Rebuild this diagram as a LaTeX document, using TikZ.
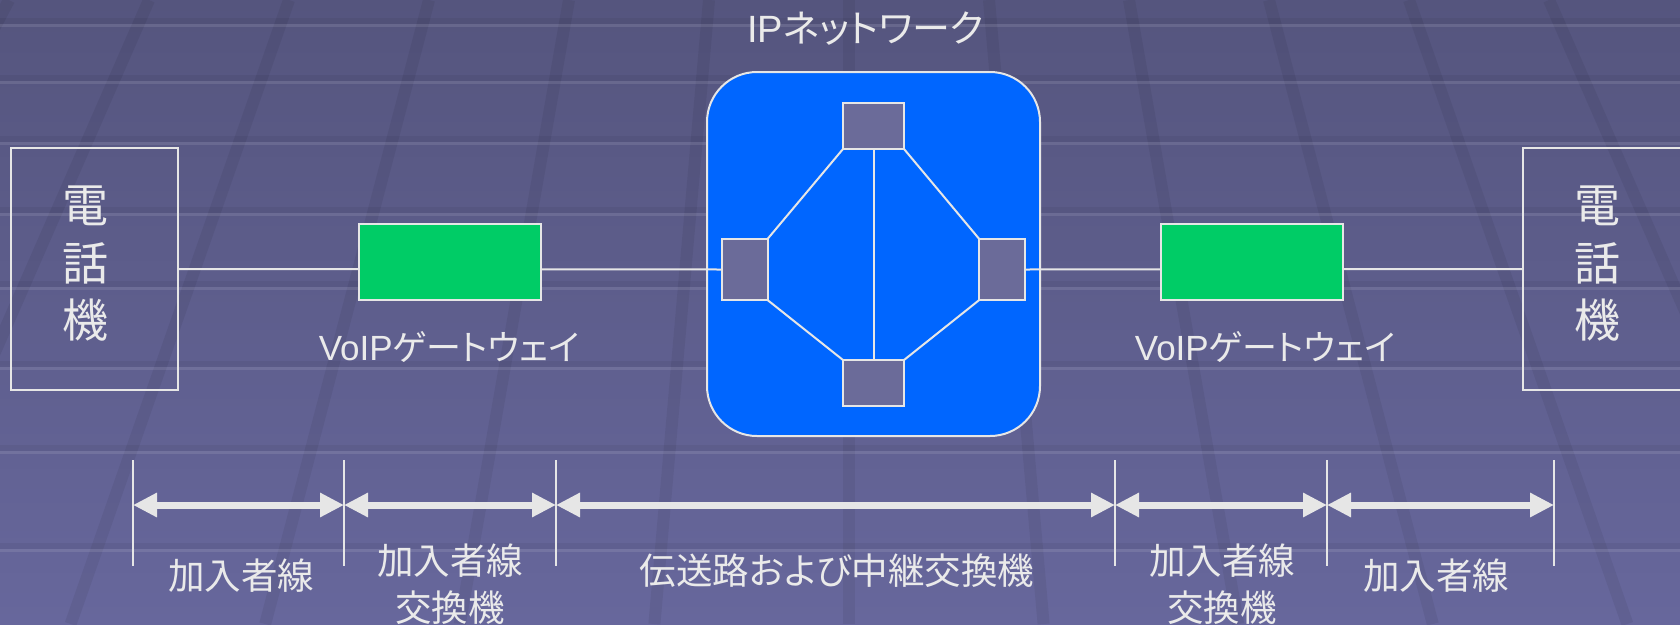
\documentclass[tikz,border=0pt]{standalone}
\usepackage{fontspec}
\setmainfont{Noto Sans CJK JP}[RawFeature={+palt}]
\newfontfamily\latf{Liberation Sans}
\usetikzlibrary{arrows.meta}
\pgfdeclarelayer{bg}
\pgfdeclarelayer{lines}
\pgfsetlayers{bg,lines,main}
\definecolor{bgtop}{HTML}{55557E}
\definecolor{bgbot}{HTML}{67679C}
\definecolor{txt}{HTML}{EAEAEA}
\definecolor{gwgreen}{HTML}{00CC66}
\definecolor{netblue}{HTML}{0066FF}
\definecolor{router}{HTML}{6B6B99}
\definecolor{linec}{HTML}{E6E6E6}
\tikzset{
  boxline/.style={draw=linec, line width=2pt, inner sep=0pt, outer sep=0pt},
  phonebox/.style={boxline, minimum width=167pt, minimum height=242pt},
  gwbox/.style={boxline, fill=gwgreen, minimum width=182pt, minimum height=76pt},
  rtbox/.style={boxline, fill=router},
  conn/.style={draw=linec, line width=2pt},
  tick/.style={draw=linec, line width=1.8pt},
  dimarrow/.style={draw=linec, line width=7pt, {Triangle[length=24pt,width=23pt]}-{Triangle[length=24pt,width=23pt]}},
  lbl/.style={text=txt, inner sep=0pt, font=\fontsize{36.5}{47}\selectfont, align=center},
  phonetxt/.style={text=txt, inner sep=0pt, font=\fontsize{46}{57.5}\selectfont, align=center},
}
\begin{document}
\begin{tikzpicture}[x=1pt,y=-1pt]
\clip (0,0) rectangle (1680,624);
\begin{pgfonlayer}{bg}
  \shade[top color=bgtop, bottom color=bgbot] (0,0) rectangle (1680,624);
  \foreach \k in {-7,...,7} {
    \draw[line width=12pt, black, opacity=0.06] (849+140*\k,0) -- (849+194.6*\k,624);
  }
  \foreach \yy in {25,82,143,214,288,368,452,550} {
    \draw[line width=6pt, black, opacity=0.05] (0,\yy-4.5) -- (1680,\yy-4.5);
    \draw[line width=3pt, white, opacity=0.10] (0,\yy) -- (1680,\yy);
  }
  \node[boxline, fill=netblue, rounded corners=50pt, minimum width=333pt, minimum height=364pt] (net) at (873.5,254) {};
\end{pgfonlayer}

% phones
\node[phonebox] (phoneL) at (94.5,269) {};
\node[phonetxt] (phoneLt) at (85,264) {電\\話\\機};
\node[phonebox] (phoneR) at (1606.5,269) {};
\node[phonetxt] (phoneRt) at (1597,264) {電\\話\\機};

% gateways
\node[gwbox] (gwL) at (450,262) {};
\node[gwbox] (gwR) at (1251.5,262) {};
\node[lbl, font=\fontsize{35}{42}\selectfont] (gwLt) at (449,347) {{\latf VoIP}ゲートウェイ};
\node[lbl, font=\fontsize{35}{42}\selectfont] (gwRt) at (1265,347) {{\latf VoIP}ゲートウェイ};

% routers
\node[rtbox, minimum width=61pt, minimum height=46pt] (rT) at (873.5,126) {};
\node[rtbox, minimum width=61pt, minimum height=46pt] (rB) at (873.5,383) {};
\node[rtbox, minimum width=45.5pt, minimum height=61pt] (rL) at (744.75,269.5) {};
\node[rtbox, minimum width=45.5pt, minimum height=61pt] (rR) at (1002,269.5) {};
\node[lbl, font=\fontsize{38}{44}\selectfont] (netlbl) at (865.5,29) {{\latf IP}ネットワーク};

\begin{pgfonlayer}{lines}
  \draw[conn] (phoneL.east) -- (rL.west);
  \draw[conn] (rR.east) -- (phoneR.west);
  \draw[conn] (rT.south west) -- (rL.north east);
  \draw[conn] (rT.south east) -- (rR.north west);
  \draw[conn] (rL.south east) -- (rB.north west);
  \draw[conn] (rR.south west) -- (rB.north east);
  \draw[conn] (rT.south) -- (rB.north);
\end{pgfonlayer}

% dimension ticks and arrows
\foreach \i/\xx in {1/133,2/344,3/556,4/1115,5/1327,6/1554} {
  \coordinate (t\i a) at (\xx,460);
  \coordinate (t\i b) at (\xx,566);
  \coordinate (a\i) at (\xx,505);
  \draw[tick] (t\i a) -- (t\i b);
}
\draw[dimarrow] (a1) -- (a2);
\draw[dimarrow] (a2) -- (a3);
\draw[dimarrow] (a3) -- (a4);
\draw[dimarrow] (a4) -- (a5);
\draw[dimarrow] (a5) -- (a6);

\node[lbl] (l1) at (241,576) {加入者線};
\node[lbl] (l2) at (450,584.5) {加入者線\\交換機};
\node[lbl] (l3) at (837,571) {伝送路および中継交換機};
\node[lbl] (l4) at (1222,584.5) {加入者線\\交換機};
\node[lbl] (l5) at (1436,576) {加入者線};
\end{tikzpicture}
\end{document}
